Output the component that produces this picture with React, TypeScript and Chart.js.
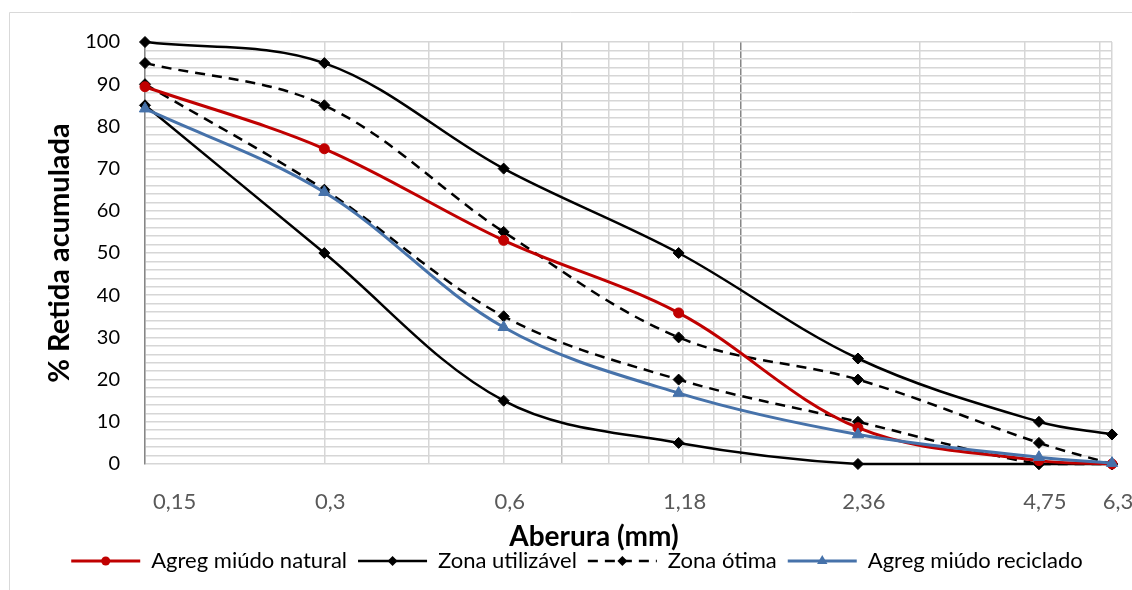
import React, { useEffect, useRef } from 'react';
import { Chart, registerables } from 'chart.js';

Chart.register(...registerables);

// ---- data ----
const sieveSizes = [0.15, 0.3, 0.6, 1.18, 2.36, 4.75, 6.3];
const sieveLabels = ['0,15', '0,3', '0,6', '1,18', '2,36', '4,75', '6,3'];
const naturalValues = [89.4, 74.7, 53, 35.8, 8.6, 0.8, 0];
const usableUpper = [100, 95, 70, 50, 25, 10, 7];
const usableLower = [85, 50, 15, 5, 0, 0, 0];
const optimalUpper = [95, 85, 55, 30, 20, 5, 0];
const optimalLower = [90, 65, 35, 20, 10, 0, 0];
const recycledValues = [84.2, 64.4, 32.4, 16.8, 7, 1.6, 0.2];
const yLabelValues = [0, 10, 20, 30, 40, 50, 60, 70, 80, 90, 100];
const xGridValues = [0.15, 0.3, 0.45, 0.6, 0.75, 0.9, 1.05, 1.2, 1.35, 1.5, 3, 4.5, 6, 6.3];

const FONT = "Lato, 'Open Sans', sans-serif";
const RED = '#C00000';
const BLUE = '#4672AA';
const BLACK = '#000000';

function drawMarker(ctx: CanvasRenderingContext2D, style: string, x: number, y: number, r: number, color: string) {
  ctx.save();
  ctx.fillStyle = color;
  ctx.strokeStyle = color;
  ctx.setLineDash([]);
  ctx.beginPath();
  if (style === 'circle') {
    ctx.arc(x, y, r, 0, Math.PI * 2);
  } else if (style === 'rectRot') {
    ctx.moveTo(x, y - r);
    ctx.lineTo(x + r, y);
    ctx.lineTo(x, y + r);
    ctx.lineTo(x - r, y);
    ctx.closePath();
  } else {
    ctx.moveTo(x, y - r);
    ctx.lineTo(x + r * 0.866, y + r * 0.5);
    ctx.lineTo(x - r * 0.866, y + r * 0.5);
    ctx.closePath();
  }
  ctx.fill();
  ctx.restore();
}

const framePlugin = {
  id: 'frame',
  beforeDraw(chart: any) {
    const { ctx, width, height } = chart;
    ctx.save();
    ctx.fillStyle = '#ffffff';
    ctx.fillRect(0, 0, width, height);
    ctx.strokeStyle = '#d9d9d9';
    ctx.lineWidth = 1;
    ctx.beginPath();
    ctx.moveTo(9.5, height);
    ctx.lineTo(9.5, 12.5);
    ctx.lineTo(width, 12.5);
    ctx.stroke();
    ctx.restore();
  },
};

const xLabelsPlugin = {
  id: 'xLabels',
  afterDraw(chart: any) {
    const { ctx, chartArea } = chart;
    const xs = chart.scales.x;
    ctx.save();
    ctx.font = `22px ${FONT}`;
    ctx.fillStyle = '#595959';
    ctx.textBaseline = 'middle';
    sieveSizes.forEach((v, i) => {
      const px = xs.getPixelForValue(v);
      if (i === 0) {
        ctx.textAlign = 'left';
        ctx.fillText(sieveLabels[i], px + 8, chartArea.bottom + 38);
      } else {
        ctx.textAlign = 'center';
        ctx.fillText(sieveLabels[i], px + 6, chartArea.bottom + 38);
      }
    });
    ctx.font = `bold 28px ${FONT}`;
    ctx.fillStyle = '#000000';
    ctx.textAlign = 'center';
    ctx.fillText('Aberura (mm)', chart.width / 2 + 28, chartArea.bottom + 73);
    ctx.restore();
  },
};

const legendMarkerPlugin = {
  id: 'legendMarkers',
  afterDraw(chart: any) {
    const legend = chart.legend;
    if (!legend || !legend.legendHitBoxes) return;
    const { ctx } = chart;
    const opts = legend.options.labels;
    const bw = opts.pointStyleWidth;
    const fs = opts.font.size;
    legend.legendItems.forEach((item: any, i: number) => {
      const hb = legend.legendHitBoxes[i];
      if (!hb) return;
      const ds = chart.data.datasets[item.datasetIndex];
      drawMarker(ctx, ds.pointStyle, hb.left + bw / 2, hb.top + fs / 2, ds.pointRadius - 0.5, ds.borderColor);
    });
  },
};

export default function App() {
  const ref = useRef<HTMLCanvasElement>(null);

  useEffect(() => {
    const pts = (vals: number[]) => sieveSizes.map((x, i) => ({ x, y: vals[i] }));
    const common = { tension: 0.35, clip: false as any, pointBorderWidth: 1 };
    const blackDs = { ...common, borderColor: BLACK, backgroundColor: BLACK, pointBackgroundColor: BLACK, pointBorderColor: BLACK, borderWidth: 2.5, pointStyle: 'rectRot', pointRadius: 5.5, order: 2 };
    const chart = new Chart(ref.current as HTMLCanvasElement, {
      type: 'line',
      data: {
        datasets: [
          { ...common, label: 'Agreg miúdo natural', data: pts(naturalValues), borderColor: RED, backgroundColor: RED, pointBackgroundColor: RED, pointBorderColor: RED, borderWidth: 3, pointStyle: 'circle', pointRadius: 5, order: 1 },
          { ...blackDs, label: 'Zona utilizável', data: pts(usableUpper) },
          { ...blackDs, label: 'Zona utilizável', data: pts(usableLower) },
          { ...blackDs, label: 'Zona ótima', data: pts(optimalUpper), borderDash: [10, 7] },
          { ...blackDs, label: 'Zona ótima', data: pts(optimalLower), borderDash: [10, 7] },
          { ...common, label: 'Agreg miúdo reciclado', data: pts(recycledValues), borderColor: BLUE, backgroundColor: BLUE, pointBackgroundColor: BLUE, pointBorderColor: BLUE, borderWidth: 3, pointStyle: 'triangle', pointRadius: 6.5, order: 0 },
        ] as any,
      },
      options: {
        responsive: false,
        animation: false,
        devicePixelRatio: 1,
        layout: { padding: { left: 42, right: 20, top: 42, bottom: 8 } },
        plugins: {
          tooltip: { enabled: false },
          legend: {
            position: 'bottom',
            labels: {
              usePointStyle: true,
              pointStyleWidth: 69,
              boxHeight: 22,
              padding: 11,
              color: '#000000',
              font: { family: FONT, size: 22 },
              generateLabels: (chart: any) => {
                const items = Chart.defaults.plugins.legend.labels.generateLabels(chart);
                return items
                  .filter((it: any) => it.datasetIndex !== 2 && it.datasetIndex !== 4)
                  .sort((a: any, b: any) => a.datasetIndex - b.datasetIndex)
                  .map((it: any) => {
                    const ds = chart.data.datasets[it.datasetIndex];
                    return { ...it, pointStyle: 'line', lineWidth: ds.borderWidth, strokeStyle: ds.borderColor, lineDash: ds.borderDash || [] };
                  });
              },
            },
          },
        },
        scales: {
          x: {
            type: 'logarithmic',
            position: 'bottom',
            min: 0.15,
            max: 6.3,
            afterBuildTicks: (s: any) => { s.ticks = xGridValues.map((v) => ({ value: v })); },
            afterFit: (s: any) => { s.height = 75; },
            ticks: { display: false },
            grid: {
              drawTicks: false,
              lineWidth: 1.5,
              color: (c: any) => {
                const v = c.tick && c.tick.value;
                if (v === 1.5) return '#868686';
                if (v === 0.75) return '#bfbfbf';
                return '#d6d6d6';
              },
            },
            border: { display: false },
          },
          y: {
            type: 'linear',
            min: 0,
            max: 100,
            afterFit: (s: any) => { s.width = 103; },
            ticks: {
              stepSize: 2,
              autoSkip: false,
              padding: 25,
              color: '#000000',
              font: { family: FONT, size: 20 },
              callback: (v: any) => (yLabelValues.includes(Number(v)) ? String(v) : ''),
            },
            grid: { drawTicks: false, color: '#d6d6d6', lineWidth: 1.5 },
            border: { display: true, color: '#868686', width: 1.5 },
            title: {
              display: true,
              text: '% Retida acumulada',
              color: '#000000',
              font: { family: FONT, size: 29, weight: 'bold' },
              padding: 0,
            },
          },
        },
      },
      plugins: [framePlugin, xLabelsPlugin, legendMarkerPlugin],
    });
    return () => chart.destroy();
  }, []);

  return (
    <div style={{ position: 'absolute', left: 0, top: 0, width: 1132, height: 590, background: '#ffffff' }}>
      <canvas ref={ref} width={1132} height={590} style={{ display: 'block' }} />
    </div>
  );
}
